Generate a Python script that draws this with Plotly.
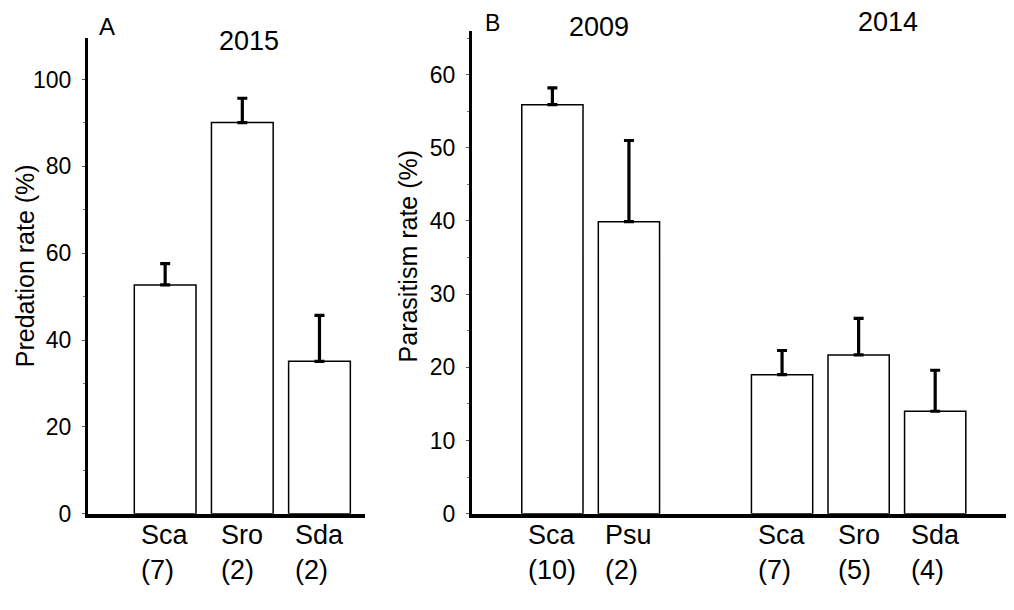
import plotly.graph_objects as go

# Panel A: 2015 predation
a_species = ["Sca", "Sro", "Sda"]
a_n = [7, 2, 2]
a_mean = [52.7, 90.1, 35.1]
a_err = [4.9, 5.6, 10.6]

# Panel B: parasitism, 2009 and 2014
b09_species = ["Sca", "Psu"]
b09_n = [10, 2]
b09_mean = [55.9, 39.9]
b09_err = [2.3, 11.1]

b14_species = ["Sca", "Sro", "Sda"]
b14_n = [7, 5, 4]
b14_mean = [19.0, 21.7, 14.0]
b14_err = [3.3, 5.0, 5.6]

FONT = "Liberation Sans, Arial, sans-serif"
# page body has an 8px margin; size the figure so the page is exactly 1014x610
PAD = 8
W, H = 1014 - 2 * PAD, 610 - 2 * PAD


def xp(px):
    return (px - PAD) / W


def yp(py):
    return 1 - (py - PAD) / H


def keys(prefix, sp):
    return [f"{prefix}-{s}" for s in sp]


a_keys = keys("2015", a_species)
b09_keys = keys("2009", b09_species)
b14_keys = keys("2014", b14_species)
spacer = "gap"
b_cats = b09_keys + [spacer] + b14_keys

fig = go.Figure()

bar_style = dict(marker=dict(color="white", line=dict(color="black", width=1.5)),
                 width=0.8, showlegend=False)
err_style = dict(type="data", symmetric=False, thickness=3.2, width=5, color="black")

fig.add_trace(go.Bar(x=a_keys, y=a_mean, xaxis="x", yaxis="y",
                     error_y=dict(array=a_err, arrayminus=[0] * len(a_err), **err_style),
                     **bar_style))
fig.add_trace(go.Bar(x=b09_keys, y=b09_mean, xaxis="x2", yaxis="y2",
                     error_y=dict(array=b09_err, arrayminus=[0] * len(b09_err), **err_style),
                     **bar_style))
fig.add_trace(go.Bar(x=b14_keys, y=b14_mean, xaxis="x2", yaxis="y2",
                     error_y=dict(array=b14_err, arrayminus=[0] * len(b14_err), **err_style),
                     **bar_style))

tickfont = dict(family=FONT, size=23, color="black")


def yaxis(rng, dtick, anchor, top_px):
    return dict(range=rng, domain=[yp(525), yp(top_px)], anchor=anchor,
                showline=True, linewidth=3, linecolor="black",
                ticks="outside", ticklen=3, tickwidth=1, tickcolor="#555",
                dtick=dtick, tick0=0, showgrid=False, zeroline=False,
                minor=dict(ticks="outside", ticklen=2, tickwidth=1, dtick=dtick / 2,
                           tickcolor="#777"),
                ticklabelstandoff=6,
                tickfont=tickfont)


def xaxis(dom, anchor, cats, rng):
    return dict(domain=dom, anchor=anchor, type="category",
                categoryorder="array", categoryarray=cats, range=rng,
                showline=True, linewidth=4, linecolor="black", ticks="",
                showticklabels=False, showgrid=False, zeroline=False)


fig.update_layout(
    width=W, height=H,
    margin=dict(l=0, r=0, t=0, b=0),
    paper_bgcolor="white", plot_bgcolor="white",
    xaxis=xaxis([xp(88), xp(365)], "y", a_keys, [-1.0, 2.59]),
    yaxis=yaxis([0, 109.5], 20, "x", 39),
    xaxis2=xaxis([xp(472), 1.0], "y2", b_cats, [-1.05, 5.925]),
    yaxis2=yaxis([0, 65.9], 10, "x2", 32),
)

# category labels (species over sample size, left aligned)
cat_font = dict(family=FONT, size=27, color="black")
for xref, ks, sp, ns in [("x", a_keys, a_species, a_n),
                         ("x2", b09_keys, b09_species, b09_n),
                         ("x2", b14_keys, b14_species, b14_n)]:
    for k, s, n in zip(ks, sp, ns):
        fig.add_annotation(text=f"{s}<br>({n})", x=k, xref=xref, y=yp(529), yref="paper",
                           showarrow=False, font=cat_font, align="left",
                           xanchor="center", yanchor="top")

# axis titles
title_font = dict(family=FONT, size=25, color="black")
for txt, x, y in [("Predation rate (%)", 25, 272), ("Parasitism rate (%)", 408, 262)]:
    fig.add_annotation(text=txt, x=xp(x), y=yp(y), xref="paper", yref="paper",
                       showarrow=False, font=title_font, textangle=-90,
                       xanchor="center", yanchor="middle")

# panel letters and years
for txt, x, y, size in [("A", 107, 27, 24), ("2015", 249, 42, 27),
                        ("2009", 599, 27, 27), ("2014", 888, 22, 27)]:
    fig.add_annotation(text=txt, x=xp(x), y=yp(y), xref="paper", yref="paper",
                       showarrow=False, font=dict(family=FONT, size=size, color="black"),
                       xanchor="center", yanchor="middle")
fig.add_annotation(text="B", x=xp(492), y=1.0, xref="paper", yref="paper",
                   showarrow=False, font=dict(family=FONT, size=23, color="black"),
                   xanchor="center", yanchor="top")

fig.write_html("out.html")
